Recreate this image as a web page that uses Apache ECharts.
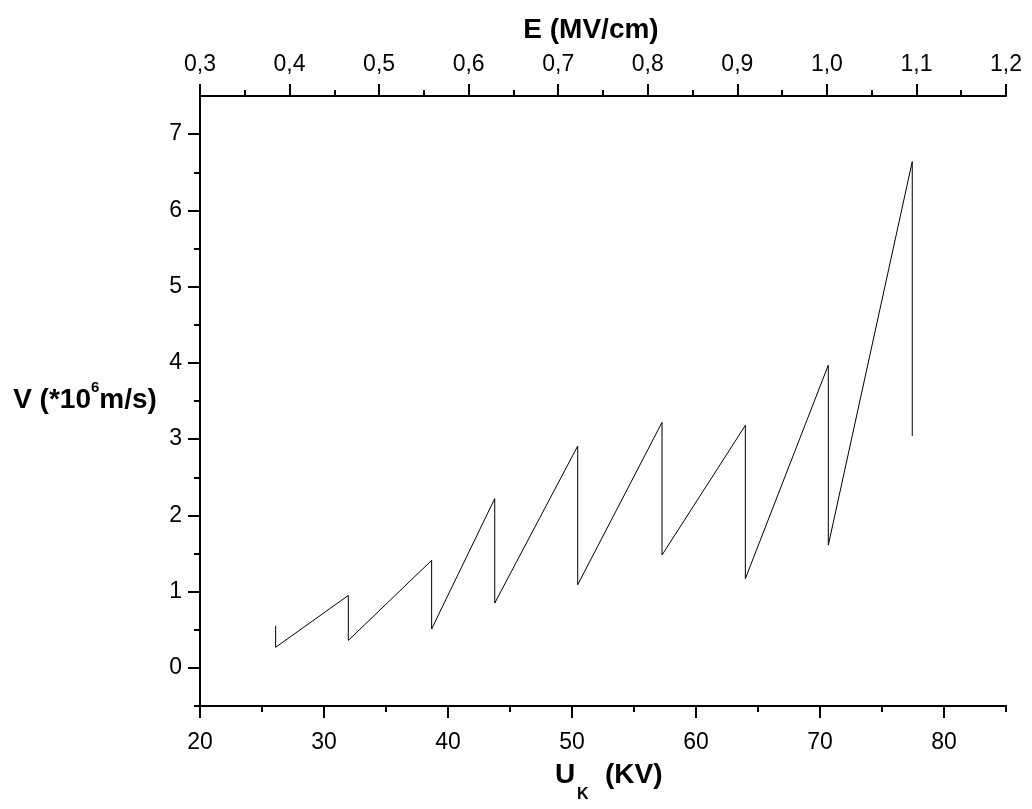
<!DOCTYPE html>
<html>
<head>
<meta charset="utf-8">
<script src="https://cdn.jsdelivr.net/npm/echarts@6/dist/echarts.min.js"></script>
<style>
html,body{margin:0;padding:0;background:#fff;}
#chart{width:1032px;height:809px;}
</style>
</head>
<body>
<div id="chart"></div>
<script>
// Data
const uK = [26.1, 26.1, 31.96, 31.96, 38.68, 38.68, 43.77, 43.77, 50.46, 50.46, 57.26, 57.26, 63.98, 63.98, 70.67, 70.67, 77.44, 77.44];
const velocity = [0.55, 0.27, 0.95, 0.36, 1.41, 0.51, 2.22, 0.85, 2.91, 1.09, 3.22, 1.48, 3.18, 1.17, 3.97, 1.61, 6.64, 3.04];
const xMajorTicks = [20, 30, 40, 50, 60, 70, 80];
const xMinorTicks = [25, 35, 45, 55, 65, 75, 85];
const yMajorTicks = [0, 1, 2, 3, 4, 5, 6, 7];
const yMinorTicks = [-0.5, 0.5, 1.5, 2.5, 3.5, 4.5, 5.5, 6.5];
const eTicksTenths = [3, 4, 5, 6, 7, 8, 9, 10, 11, 12]; // E in units of 0.1 MV/cm

const FONT = 'Liberation Sans, Arial, sans-serif';
const axisLineStyle = { color: '#000', width: 2 };

const chart = echarts.init(document.getElementById('chart'), null, { renderer: 'canvas' });
const option = {
  backgroundColor: '#fff',
  animation: false,
  grid: { left: 200, top: 96, width: 806, height: 610, containLabel: false },
  xAxis: [
    {
      type: 'value', position: 'bottom', min: 20, max: 85,
      axisLine: { show: true, onZero: false, lineStyle: axisLineStyle },
      axisTick: { show: true, length: 12, customValues: xMajorTicks, lineStyle: axisLineStyle },
      axisLabel: { customValues: xMajorTicks, fontSize: 23, color: '#000', fontFamily: FONT, margin: 25 },
      splitLine: { show: false }
    },
    {
      type: 'value', position: 'bottom', min: 20, max: 85,
      axisLine: { show: false, onZero: false },
      axisTick: { show: true, length: 6, customValues: xMinorTicks, lineStyle: axisLineStyle },
      axisLabel: { show: false },
      splitLine: { show: false }
    },
    {
      type: 'value', position: 'top', min: 3, max: 12, interval: 1,
      axisLine: { show: true, onZero: false, lineStyle: axisLineStyle },
      axisTick: { show: true, length: 12, customValues: eTicksTenths, lineStyle: axisLineStyle },
      minorTick: { show: true, splitNumber: 2, length: 6, lineStyle: axisLineStyle },
      axisLabel: {
        customValues: eTicksTenths, fontSize: 23, color: '#000', fontFamily: FONT, margin: 20,
        formatter: v => (v / 10).toFixed(1).replace('.', ',')
      },
      splitLine: { show: false }
    }
  ],
  yAxis: [
    {
      type: 'value', position: 'left', min: -0.5, max: 7.5,
      axisLine: { show: true, onZero: false, lineStyle: axisLineStyle },
      axisTick: { show: true, length: 12, customValues: yMajorTicks, lineStyle: axisLineStyle },
      axisLabel: { customValues: yMajorTicks, fontSize: 23, color: '#000', fontFamily: FONT, margin: 18 },
      splitLine: { show: false }
    },
    {
      type: 'value', position: 'left', min: -0.5, max: 7.5,
      axisLine: { show: false, onZero: false },
      axisTick: { show: true, length: 6, customValues: yMinorTicks, lineStyle: axisLineStyle },
      axisLabel: { show: false },
      splitLine: { show: false }
    }
  ],
  graphic: [
    {
      type: 'text', x: 591, y: 30,
      style: {
        text: 'E (MV/cm)', fill: '#000', font: 'bold 28px ' + FONT,
        textAlign: 'center', textVerticalAlign: 'middle'
      }
    },
    {
      type: 'text', x: 85, y: 397,
      style: {
        text: '{m|V (*10}{s|6}{m|m/s)}',
        textAlign: 'center', textVerticalAlign: 'middle',
        rich: {
          m: { fontSize: 28, fontWeight: 'bold', fontFamily: FONT, fill: '#000', lineHeight: 34, verticalAlign: 'bottom' },
          s: { fontSize: 15, fontWeight: 'bold', fontFamily: FONT, fill: '#000', lineHeight: 34, verticalAlign: 'top' }
        }
      }
    },
    {
      type: 'text', x: 555, y: 775,
      style: {
        text: 'U', fill: '#000', font: 'bold 28px ' + FONT,
        textAlign: 'left', textVerticalAlign: 'middle'
      }
    },
    {
      type: 'text', x: 577, y: 795,
      style: {
        text: 'K', fill: '#000', font: 'bold 16px ' + FONT,
        textAlign: 'left', textVerticalAlign: 'middle'
      }
    },
    {
      type: 'text', x: 605, y: 775,
      style: {
        text: '(KV)', fill: '#000', font: 'bold 28px ' + FONT,
        textAlign: 'left', textVerticalAlign: 'middle'
      }
    }
  ],
  series: [
    {
      type: 'line',
      xAxisIndex: 0, yAxisIndex: 0,
      data: uK.map((u, i) => [u, velocity[i]]),
      showSymbol: false, symbol: 'none',
      lineStyle: { color: '#000', width: 1 },
      silent: true
    }
  ]
};
chart.setOption(option);
</script>
</body>
</html>
